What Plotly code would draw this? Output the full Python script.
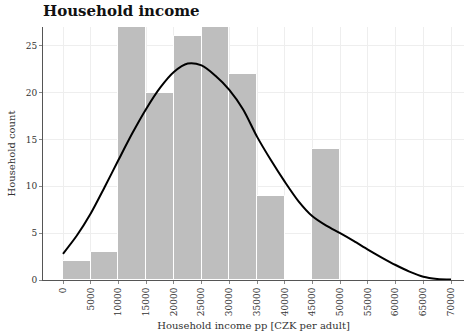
import plotly.graph_objects as go

# Histogram bins (lower edges, CZK per adult) and household counts
bin_edges = [0, 5000, 10000, 15000, 20000, 25000, 30000, 35000, 40000, 45000]
bin_width = 5000
counts = [2, 3, 27, 20, 26, 27, 22, 9, 0, 14]

# Density curve scaled to counts
curve_x = [0, 2500, 5000, 7500, 10000, 12500, 15000, 17500, 20000, 22500, 25000,
           27500, 30000, 32500, 35000, 37500, 40000, 42500, 45000, 47500, 50000,
           52500, 55000, 57500, 60000, 62500, 65000, 67500, 70000]
curve_y = [2.8, 4.75, 7.1, 9.9, 12.8, 15.65, 18.25, 20.5, 22.2, 23.1, 22.9,
           21.8, 20.3, 18.2, 15.3, 12.8, 10.5, 8.4, 6.8, 5.8, 5.0,
           4.15, 3.25, 2.4, 1.6, 0.9, 0.35, 0.12, 0.05]

x_ticks = list(range(0, 70001, 5000))
y_ticks = [0, 5, 10, 15, 20, 25]

serif = "DejaVu Serif, Liberation Serif, serif"

fig = go.Figure()
fig.add_trace(go.Bar(
    x=[e + bin_width / 2 for e in bin_edges],
    y=counts,
    width=[bin_width] * len(counts),
    marker=dict(color="#bebebe", line=dict(color="white", width=1)),
    showlegend=False,
    hoverinfo="skip",
))
fig.add_trace(go.Scatter(
    x=curve_x, y=curve_y, mode="lines",
    line=dict(color="black", width=2, shape="spline", smoothing=0.8),
    showlegend=False,
))

fig.update_layout(
    width=464, height=335,
    margin=dict(l=43, r=0, t=27, b=55),
    paper_bgcolor="white", plot_bgcolor="white",
    bargap=0,
    font=dict(family=serif, color="#333333", size=9),
    title=dict(text="<b>Household income</b>", x=0, xref="paper", xanchor="left",
               y=1, yref="container", yanchor="top", pad=dict(t=5),
               font=dict(family=serif, size=15, color="#111111")),
)
fig.update_xaxes(
    range=[-3608, 72345],
    tickvals=x_ticks, ticktext=[str(v) for v in x_ticks],
    tickangle=-90, ticks="outside", ticklen=3, tickcolor="#888888",
    showgrid=True, gridcolor="#eeeeee", gridwidth=1,
    showline=True, linecolor="#555555", linewidth=1,
    zeroline=False,
    title=dict(text="Household income pp [CZK per adult]", standoff=6,
               font=dict(family=serif, size=10, color="#333333")),
)
fig.update_yaxes(
    range=[0, 27],
    tickvals=y_ticks, ticks="outside", ticklen=3, tickcolor="#888888",
    showgrid=True, gridcolor="#eeeeee", gridwidth=1,
    showline=True, linecolor="#555555", linewidth=1,
    zeroline=False,
    title=dict(text="Household count", standoff=8,
               font=dict(family=serif, size=10, color="#333333")),
)

fig.write_html("out.html")
